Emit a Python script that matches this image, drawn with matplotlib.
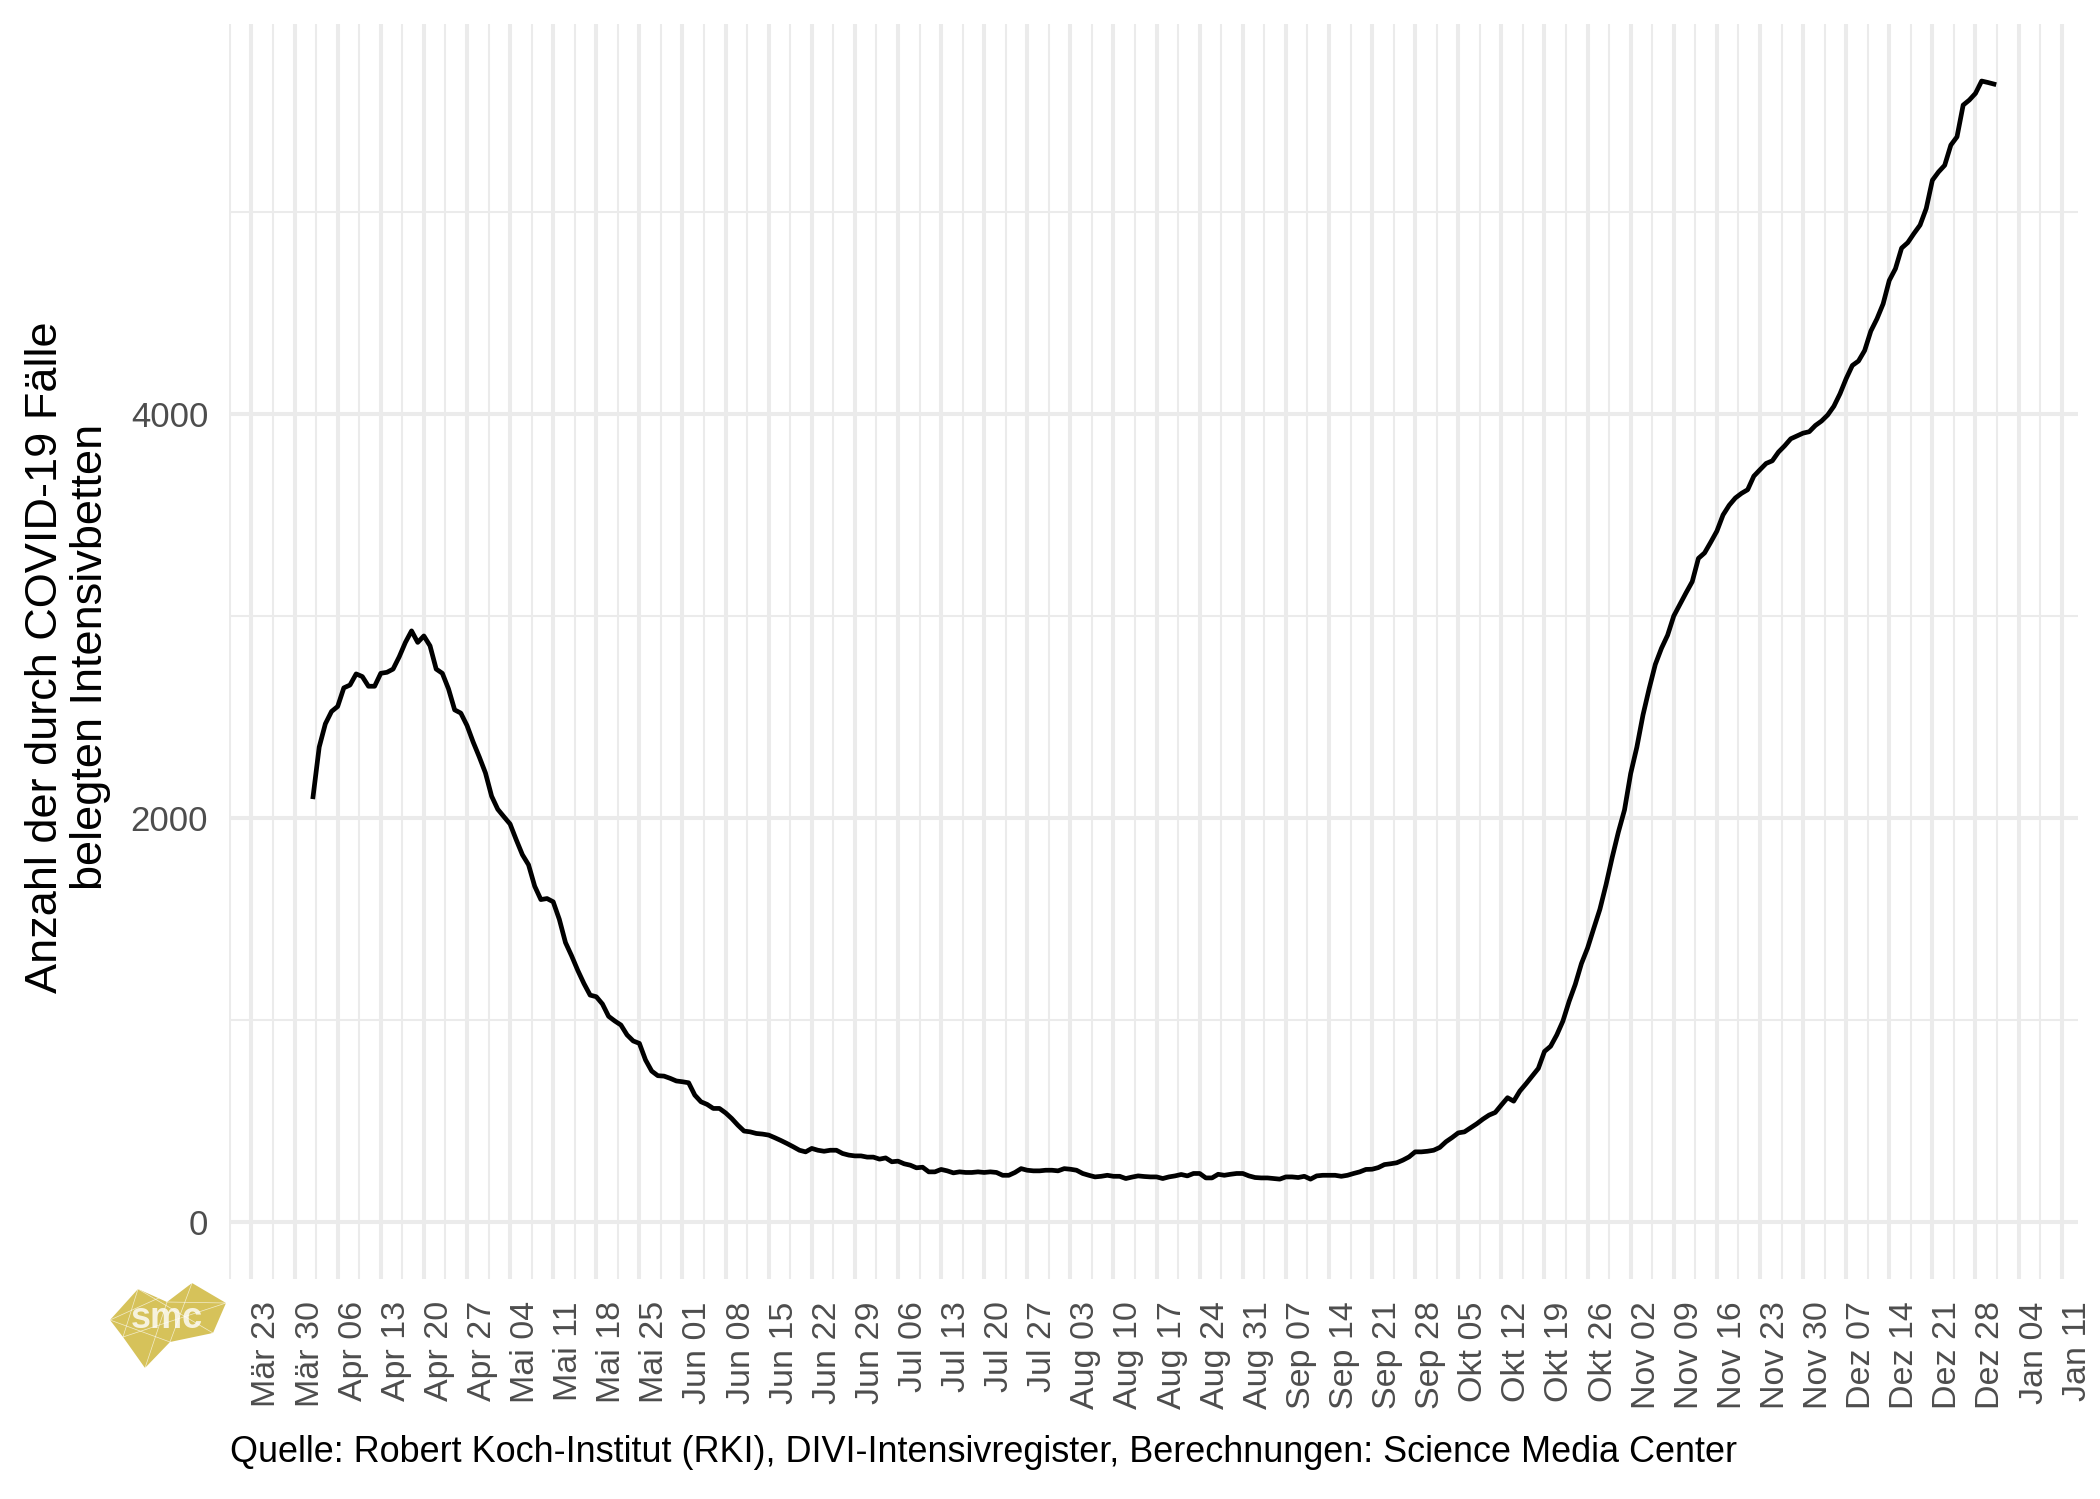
import numpy as np
import pandas as pd
import matplotlib
matplotlib.use("Agg")
import matplotlib.pyplot as plt
import matplotlib.dates as mdates
from matplotlib.patches import Polygon
from matplotlib.lines import Line2D

# ---------------- data ----------------
start_date = "2020-04-02"
icu_cases = [
    2105, 2351, 2466, 2527, 2552, 2644, 2658, 2713, 2700, 2652,
    2652, 2716, 2721, 2737, 2798, 2869, 2926, 2869, 2901, 2852,
    2737, 2716, 2639, 2535, 2519, 2458, 2376, 2302, 2223, 2108,
    2043, 2006, 1970, 1892, 1818, 1768, 1662, 1596, 1601, 1585,
    1498, 1383, 1317, 1245, 1180, 1123, 1115, 1079, 1018, 995,
    975, 926, 896, 884, 802, 747, 724, 722, 711, 698,
    694, 689, 628, 595, 582, 562, 562, 540, 512, 479,
    450, 446, 438, 435, 430, 417, 403, 388, 372, 355,
    347, 364, 355, 350, 355, 355, 339, 331, 327, 327,
    321, 321, 311, 317, 298, 301, 288, 281, 268, 271,
    248, 248, 260, 253, 243, 248, 245, 245, 248, 245,
    248, 245, 231, 231, 245, 264, 256, 253, 253, 256,
    256, 253, 264, 261, 256, 240, 231, 223, 226, 231,
    226, 226, 215, 222, 228, 225, 223, 223, 215, 223,
    228, 235, 228, 240, 240, 218, 218, 236, 231, 236,
    240, 240, 228, 220, 218, 218, 215, 212, 223, 223,
    220, 226, 212, 228, 231, 231, 231, 226, 231, 240,
    248, 260, 261, 269, 284, 288, 293, 306, 322, 347,
    347, 350, 355, 369, 397, 418, 441, 446, 466, 486,
    509, 529, 542, 579, 615, 598, 648, 684, 722, 760,
    844, 870, 926, 995, 1092, 1176, 1279, 1356, 1453, 1548,
    1670, 1805, 1930, 2040, 2220, 2350, 2510, 2640, 2760, 2840,
    2905, 3000, 3058, 3115, 3170, 3285, 3312, 3365, 3420, 3500,
    3548, 3584, 3607, 3625, 3692, 3724, 3755, 3768, 3811, 3842,
    3877, 3891, 3905, 3912, 3943, 3965, 3995, 4038, 4100, 4175,
    4240, 4262, 4314, 4410, 4471, 4545, 4661, 4719, 4821, 4848,
    4893, 4935, 5017, 5157, 5198, 5231, 5331, 5372, 5529, 5554,
    5587, 5648, 5641, 5633,
]
month_names_de = ["Jan", "Feb", "Mär", "Apr", "Mai", "Jun",
                  "Jul", "Aug", "Sep", "Okt", "Nov", "Dez"]
tick_first = "2020-03-23"
tick_last = "2021-01-11"
y_major = [0, 2000, 4000]
y_minor = [1000, 3000, 5000]
y_label = "Anzahl der durch COVID-19 Fälle\nbelegten Intensivbetten"
caption = ("Quelle: Robert Koch-Institut (RKI), DIVI-Intensivregister, "
           "Berechnungen: Science Media Center")

# ---------------- figure ----------------
plt.rcParams["font.family"] = ["Liberation Sans", "DejaVu Sans"]
W, H = 2100, 1499
fig = plt.figure(figsize=(W / 100, H / 100), dpi=100)
ax = fig.add_axes([229 / W, 1 - 1279 / H, (2078 - 229) / W, (1279 - 24) / H])

dates = pd.date_range(start_date, periods=len(icu_cases), freq="D")
xnum = mdates.date2num(dates)
ax.plot(xnum, icu_cases, color="black", lw=3.4, solid_joinstyle="round", zorder=3)

# scales (ggplot-like 5 % expansion, y including 0)
xr = xnum[-1] - xnum[0]
ax.set_xlim(xnum[0] - 0.05 * xr, xnum[-1] + 0.05 * xr)
ylo, yhi = 0, max(icu_cases)
yr = yhi - ylo
ax.set_ylim(ylo - 0.05 * yr, yhi + 0.05 * yr)

ticks = pd.date_range(tick_first, tick_last, freq="7D")
tnum = mdates.date2num(ticks)
minor = np.concatenate([[tnum[0] - 3.5], tnum[:-1] + 3.5])
ax.set_xticks(tnum)
ax.set_xticks(minor, minor=True)
ax.set_xticklabels([f"{month_names_de[d.month - 1]} {d.day:02d}" for d in ticks])
ax.set_yticks(y_major)
ax.set_yticks(y_minor, minor=True)
ax.set_yticklabels([str(v) for v in y_major])

grid_col = "#EBEBEB"
ax.grid(which="major", color=grid_col, lw=2.9, zorder=0)
ax.grid(which="minor", color=grid_col, lw=1.45, zorder=0)
ax.set_axisbelow(True)
for s in ax.spines.values():
    s.set_visible(False)
ax.tick_params(which="both", length=0)
ax.tick_params(axis="x", pad=16, labelsize=24.5, labelcolor="#4D4D4D")
ax.tick_params(axis="y", pad=15, labelsize=25, labelcolor="#4D4D4D")
for lab in ax.get_xticklabels():
    lab.set_rotation(90)
    lab.set_ha("left")
    lab.set_va("top")

fig.text(68 / W, 1 - 657 / H, y_label, rotation=90, ha="center", va="center",
         multialignment="center", fontsize=32.5, color="black", linespacing=1.12)
fig.text(230 / W, 1 - 1453 / H, caption, ha="left", va="center",
         fontsize=25.9, color="black")

# ---------------- smc logo ----------------
logo_pts = [(110, 1320), (138, 1289), (167, 1302), (192, 1283), (226, 1303),
            (213, 1333), (170, 1342), (145, 1368), (123, 1337)]
logo_fig = [(x / W, 1 - y / H) for x, y in logo_pts]
fig.patches.append(Polygon(logo_fig, closed=True, transform=fig.transFigure,
                           facecolor="#D6C25A", edgecolor="none", zorder=1))
for i in range(len(logo_fig)):
    for j in range(i + 2, len(logo_fig)):
        if (i, j) == (0, len(logo_fig) - 1):
            continue
        if (i + j) % 3 == 0:
            fig.add_artist(Line2D([logo_fig[i][0], logo_fig[j][0]],
                                  [logo_fig[i][1], logo_fig[j][1]],
                                  transform=fig.transFigure, color="white",
                                  lw=0.5, alpha=0.7, zorder=2))
fig.text(167 / W, 1 - 1318 / H, "smc", ha="center", va="center", fontsize=26,
         color="white", fontweight="bold", zorder=3, alpha=0.8)

fig.savefig("out.png", dpi=100, facecolor="white")
